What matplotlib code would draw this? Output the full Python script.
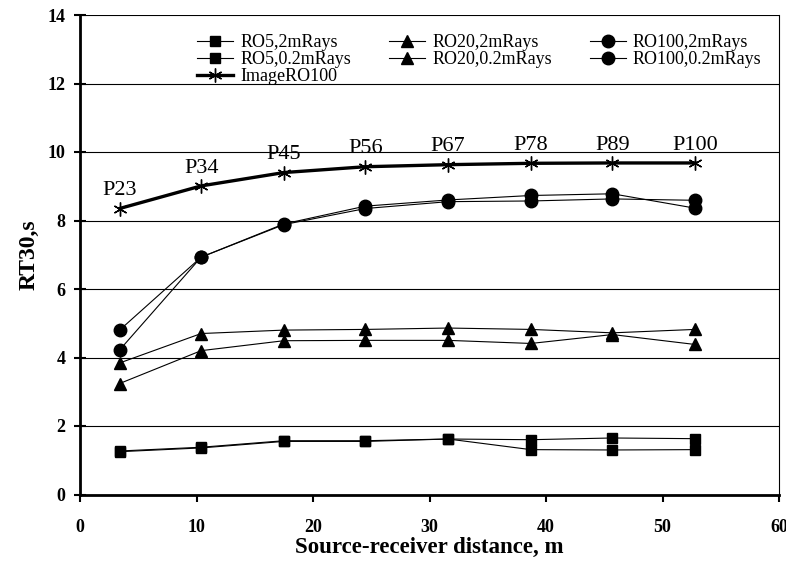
import matplotlib
matplotlib.use('Agg')
import matplotlib.pyplot as plt

# --- dados ---
distancia = [3.4, 10.4, 17.5, 24.5, 31.6, 38.7, 45.7, 52.8]
rotulos_p = ['P23', 'P34', 'P45', 'P56', 'P67', 'P78', 'P89', 'P100']

ro5_2m = [1.27, 1.38, 1.57, 1.57, 1.62, 1.60, 1.65, 1.63]
ro5_02m = [1.25, 1.36, 1.55, 1.55, 1.62, 1.31, 1.30, 1.31]
ro20_2m = [3.84, 4.70, 4.80, 4.82, 4.86, 4.82, 4.72, 4.82]
ro20_02m = [3.24, 4.20, 4.49, 4.50, 4.50, 4.41, 4.67, 4.38]
ro100_2m = [4.22, 6.93, 7.88, 8.35, 8.55, 8.57, 8.63, 8.59]
ro100_02m = [4.80, 6.93, 7.90, 8.42, 8.60, 8.73, 8.78, 8.36]
image_ro100 = [8.35, 9.01, 9.40, 9.57, 9.63, 9.67, 9.68, 9.68]

serif = 'Liberation Serif'
plt.rcParams['font.family'] = serif

fig = plt.figure(figsize=(7.86, 5.63), dpi=100)
ax = fig.add_axes([80 / 786, 1 - 494.5 / 563, 699 / 786, 479.5 / 563])

kw = dict(color='black', lw=0.8)
h_ro5_2 = ax.plot(distancia, ro5_2m, marker='s', ms=7.5, label='RO5,2mRays', **kw)[0]
h_ro5_02 = ax.plot(distancia, ro5_02m, marker='s', ms=7.5, label='RO5,0.2mRays', **kw)[0]
h_ro20_2 = ax.plot(distancia, ro20_2m, marker='^', ms=9, label='RO20,2mRays', **kw)[0]
h_ro20_02 = ax.plot(distancia, ro20_02m, marker='^', ms=9, label='RO20,0.2mRays', **kw)[0]
h_ro100_2 = ax.plot(distancia, ro100_2m, marker='o', ms=9, label='RO100,2mRays', **kw)[0]
h_ro100_02 = ax.plot(distancia, ro100_02m, marker='o', ms=9, label='RO100,0.2mRays', **kw)[0]
h_img = ax.plot(distancia, image_ro100, color='black', lw=2.4, marker=(6, 2, 0), ms=10,
                mew=1.0, label='ImageRO100')[0]

# rótulos P23 ... P100 acima das estrelas
for xi, yi, txt in zip(distancia, image_ro100, rotulos_p):
    ax.annotate(txt, xy=(xi, yi), xytext=(0, 6), textcoords='offset points',
                ha='center', va='bottom', fontsize=16, family=serif)

ax.set_xlim(0, 60)
ax.set_ylim(0, 14)
ax.set_xticks(range(0, 61, 10))
ax.set_yticks(range(0, 15, 2))
ax.grid(axis='y', color='black', lw=0.8)
ax.set_axisbelow(True)

for s in ['left', 'bottom']:
    ax.spines[s].set_linewidth(2)
ax.spines['top'].set_visible(False)
ax.spines['right'].set_linewidth(0.8)

ax.tick_params(axis='y', direction='inout', length=9, width=1.5, pad=6)
ax.tick_params(axis='x', direction='out', length=5, width=1.5, pad=13)
for lbl in ax.get_xticklabels() + ax.get_yticklabels():
    lbl.set_fontweight('bold')
    lbl.set_fontsize(13)

ax.set_xlabel('Source-receiver distance, m', fontsize=16.5, fontweight='bold', labelpad=0)
ax.set_ylabel('RT30,s', fontsize=17, fontweight='bold', labelpad=6)

# legenda em 3 colunas (ordem coluna a coluna)
handles = [h_ro5_2, h_ro5_02, h_img, h_ro20_2, h_ro20_02, h_ro100_2, h_ro100_02]
ax.legend(handles=handles, labels=[h.get_label() for h in handles], ncol=3,
          loc='upper right', bbox_to_anchor=(0.975, 0.960), frameon=False,
          fontsize=13, labelspacing=0.0, handlelength=2.0, handletextpad=0.4,
          columnspacing=2.1, borderaxespad=0, borderpad=0)

plt.savefig('out.png', dpi=100)
